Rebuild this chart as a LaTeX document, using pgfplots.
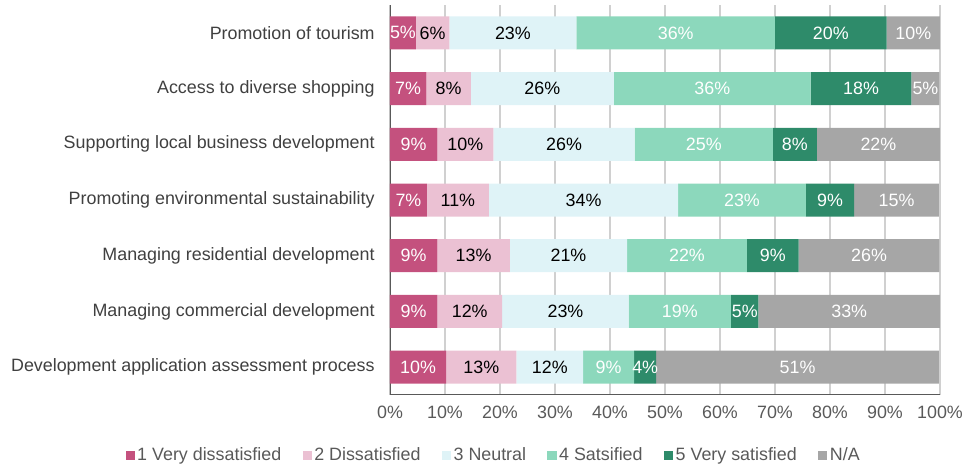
\documentclass[border=0pt]{standalone}
\usepackage{pgfplots}
\pgfplotsset{compat=1.18}
\usepackage{fontspec}
\setmainfont{Liberation Sans}
\definecolor{c1}{HTML}{C4517E}
\definecolor{c2}{HTML}{EBC1D3}
\definecolor{c3}{HTML}{DFF3F7}
\definecolor{c4}{HTML}{8CD8BC}
\definecolor{c5}{HTML}{2E8B6A}
\definecolor{c6}{HTML}{A6A6A6}
\definecolor{gridgray}{HTML}{D0D0D0}
\definecolor{axgray}{HTML}{595959}
\definecolor{textgray}{HTML}{404040}
\begin{document}
\begin{tikzpicture}
\useasboundingbox (-292.5pt,-53.25pt) rectangle (430.5pt,296.25pt);
\begin{axis}[
  at={(0,0)}, anchor=south west,
  scale only axis, width=412.5pt, height=292.5pt,
  xbar stacked, bar width=24.75pt,
  xmin=0, xmax=100, ymin=-0.5, ymax=6.5, y dir=reverse,
  ytick={0,...,6},
  yticklabels={Promotion of tourism, Access to diverse shopping, Supporting local business development, Promoting environmental sustainability, Managing residential development, Managing commercial development, Development application assessment process},
  xtick={0,10,...,100},
  xticklabel={\pgfmathprintnumber{\tick}\%},
  xmajorgrids, major grid style={draw=gridgray, line width=0.8pt},
  major tick length=0pt,
  axis line style={draw=none},
  font=\fontsize{13.4}{15}\selectfont,
  yticklabel style={text=textgray, xshift=-8pt},
  xticklabel style={text=axgray, yshift=-5pt},
  /pgf/number format/assume math mode=true,
  nodes near coords={\pgfmathprintnumber[fixed,precision=0]{\pgfplotspointmeta}\%},
  every node near coord/.append style={anchor=center, font=\fontsize{13.4}{15}\selectfont},
  legend columns=6,
  legend style={draw=none, fill=none, at={(0.189,-0.154)}, anchor=center, font=\fontsize{13.4}{15}\selectfont, text=axgray, /tikz/every even column/.append style={column sep=14pt}},
  legend image code/.code={\fill[#1] (0pt,-3.4pt) rectangle (6.8pt,3.4pt);},
]
\addplot[fill=c1, draw=none, every node near coord/.append style={text=white}] coordinates {(4.7,0) (6.6,1) (8.6,2) (6.7,3) (8.6,4) (8.6,5) (10.2,6)};
\addplot[fill=c2, draw=none, every node near coord/.append style={text=black}] coordinates {(6.1,0) (8.1,1) (10.2,2) (11.3,3) (13.2,4) (11.8,5) (12.8,6)};
\addplot[fill=c3, draw=none, every node near coord/.append style={text=black}] coordinates {(23.1,0) (26.0,1) (25.7,2) (34.4,3) (21.3,4) (23.0,5) (12.1,6)};
\addplot[fill=c4, draw=none, every node near coord/.append style={text=white}] coordinates {(36.1,0) (35.8,1) (25.1,2) (23.2,3) (21.8,4) (18.6,5) (9.3,6)};
\addplot[fill=c5, draw=none, every node near coord/.append style={text=white}] coordinates {(20.3,0) (18.3,1) (8.0,2) (8.8,3) (9.4,4) (5.0,5) (4.0,6)};
\addplot[fill=c6, draw=none, every node near coord/.append style={text=white}] coordinates {(9.7,0) (5.1,1) (22.4,2) (15.4,3) (25.6,4) (33.0,5) (51.4,6)};
\legend{1 Very dissatisfied, 2 Dissatisfied, 3 Neutral, 4 Satsified, 5 Very satisfied, N/A}
\draw[axgray, line width=1.5pt] (rel axis cs:0,1) -- (rel axis cs:0,0) -- (rel axis cs:1,0);
\end{axis}
\end{tikzpicture}
\end{document}
